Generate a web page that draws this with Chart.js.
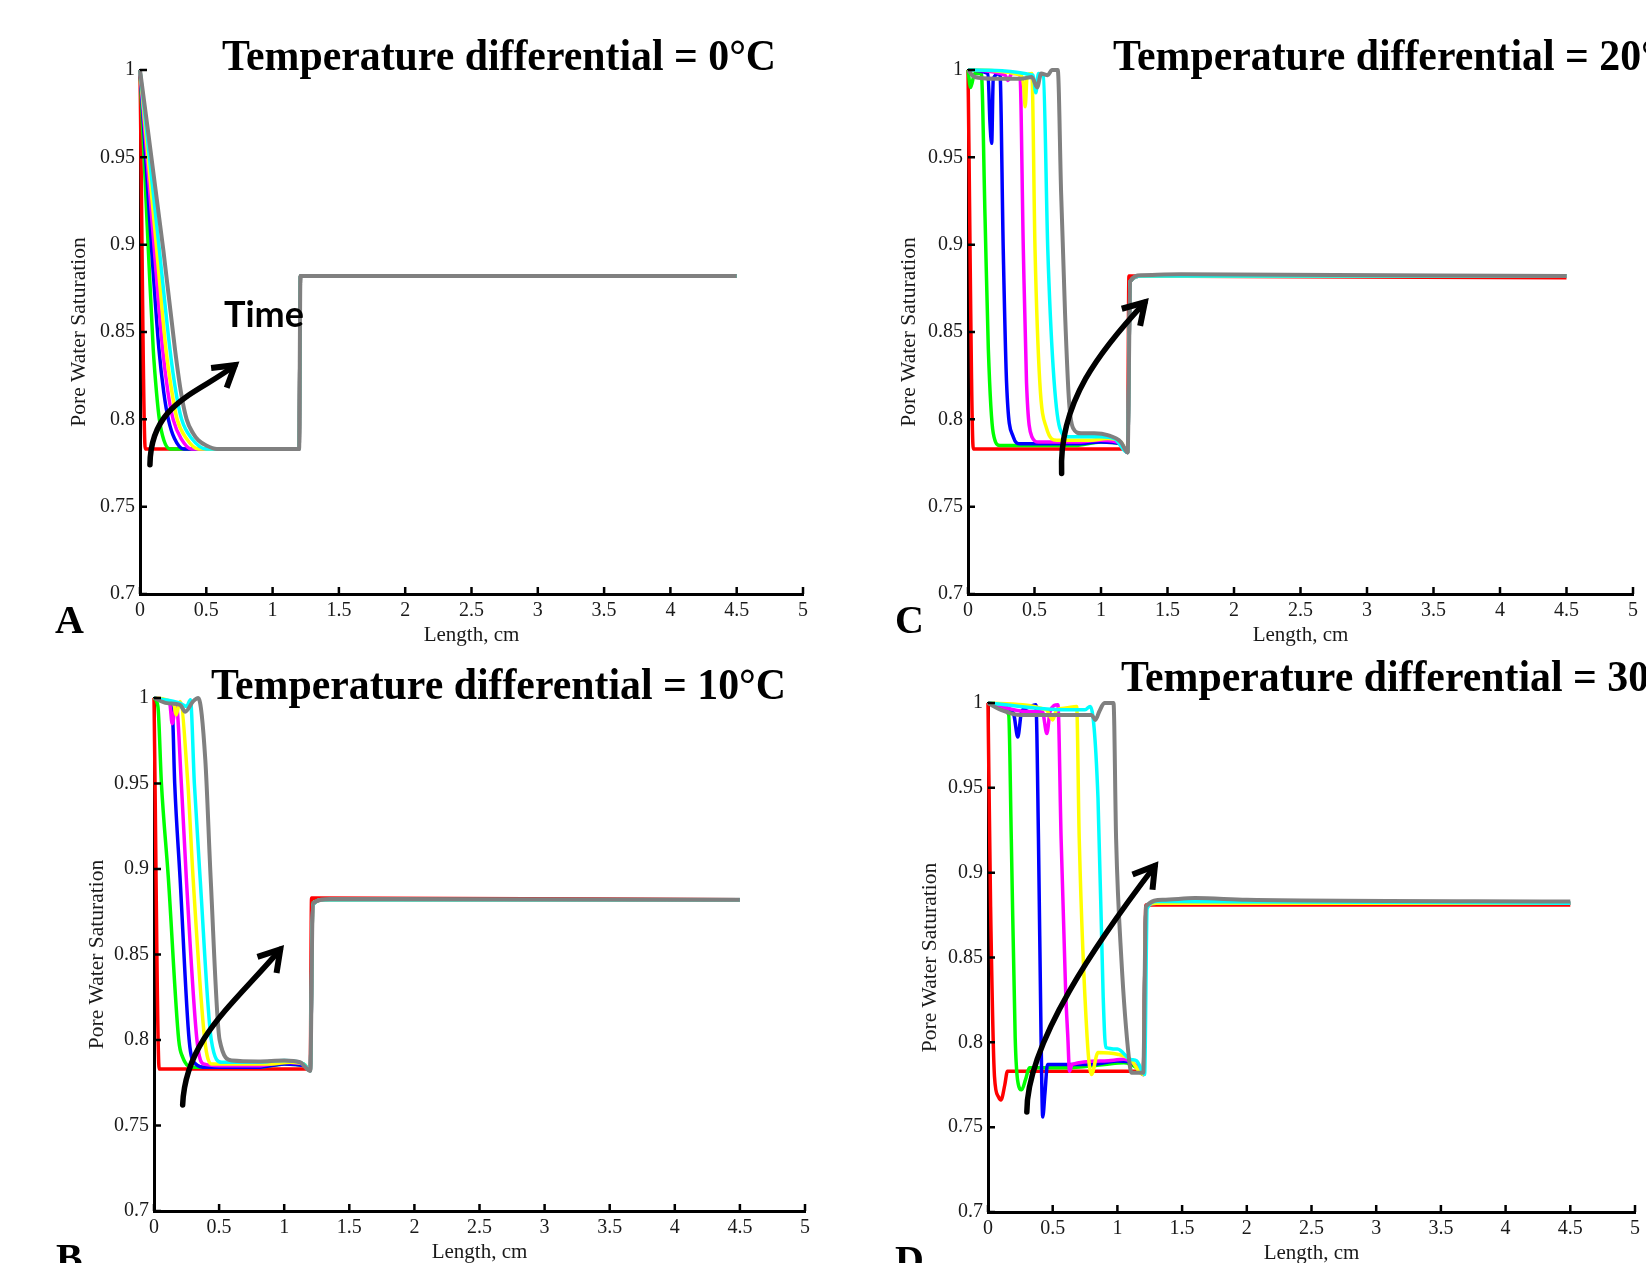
<!DOCTYPE html>
<html>
<head>
<meta charset="utf-8">
<script src="https://cdn.jsdelivr.net/npm/chart.js@4.4.0/dist/chart.umd.min.js"></script>
<style>
html, body { margin: 0; padding: 0; background: #fff; }
#page { position: relative; width: 1646px; height: 1263px; overflow: hidden; background: #fff; }
canvas { position: absolute; }
.title { position: absolute; font-family: 'Liberation Serif', 'Times New Roman', serif; font-weight: bold; font-size: 44px; line-height: 44px; white-space: nowrap; transform: scaleX(0.95); transform-origin: 0 0; color: #000; }
.letter { position: absolute; font-family: 'Liberation Serif', 'Times New Roman', serif; font-weight: bold; font-size: 40px; line-height: 40px; color: #000; }
.time { position: absolute; font-family: Lato, sans-serif; font-weight: bold; font-size: 36px; line-height: 43px; color: #000; }
</style>
</head>
<body>
<div id="page">
  <canvas id="chartA"></canvas>
  <canvas id="chartC"></canvas>
  <canvas id="chartB"></canvas>
  <canvas id="chartD"></canvas>
  <div class="title" style="left:222px; top:34px;">Temperature differential = 0°C</div>
  <div class="title" style="left:1113px; top:34px;">Temperature differential = 20°C</div>
  <div class="title" style="left:211px; top:663px;">Temperature differential = 10°C</div>
  <div class="title" style="left:1121px; top:655px;">Temperature differential = 30°C</div>
  <div class="letter" style="left:55px; top:600px;">A</div>
  <div class="letter" style="left:895px; top:600px;">C</div>
  <div class="letter" style="left:56px; top:1238px;">B</div>
  <div class="letter" style="left:895px; top:1240px;">D</div>
  <div class="time" style="left:224px; top:292px;">Time</div>
</div>
<script>
// axis ticks
var xTicks = [0, 0.5, 1, 1.5, 2, 2.5, 3, 3.5, 4, 4.5, 5];
var yTicks = [0.7, 0.75, 0.8, 0.85, 0.9, 0.95, 1];

var seriesNames = ['red', 'green', 'blue', 'magenta', 'yellow', 'cyan', 'gray'];
var seriesColors = ['#ff0000', '#00ff00', '#0000ff', '#ff00ff', '#ffff00', '#00ffff', '#808080'];

// 0 C  -- [length cm, saturation]
var A_red = [[0, 1], [0.04, 0.783], [1.2, 0.783], [1.21, 0.882], [4.5, 0.882]];
var A_green = [[0, 1], [0.063, 0.897], [0.1, 0.84], [0.125, 0.815], [0.146, 0.8], [0.18, 0.788], [0.226, 0.783], [1.2, 0.783], [1.21, 0.882], [4.5, 0.882]];
var A_blue = [[0, 1], [0.088, 0.897], [0.143, 0.84], [0.18, 0.815], [0.214, 0.8], [0.26, 0.789], [0.33, 0.783], [1.2, 0.783], [1.21, 0.882], [4.5, 0.882]];
var A_magenta = [[0, 1], [0.108, 0.897], [0.171, 0.84], [0.21, 0.816], [0.25, 0.8], [0.31, 0.789], [0.39, 0.783], [1.2, 0.783], [1.21, 0.882], [4.5, 0.882]];
var A_yellow = [[0, 1], [0.126, 0.897], [0.196, 0.84], [0.24, 0.816], [0.28, 0.8], [0.35, 0.789], [0.44, 0.783], [1.2, 0.783], [1.21, 0.882], [4.5, 0.882]];
var A_cyan = [[0, 1], [0.146, 0.897], [0.226, 0.84], [0.27, 0.816], [0.314, 0.8], [0.39, 0.789], [0.5, 0.783], [1.2, 0.783], [1.21, 0.882], [4.5, 0.882]];
var A_gray = [[0, 1], [0.176, 0.897], [0.264, 0.84], [0.31, 0.815], [0.352, 0.8], [0.4, 0.792], [0.44, 0.788], [0.5, 0.785], [0.58, 0.783], [1.2, 0.783], [1.21, 0.882], [4.5, 0.882]];

// 10 C
var B_red = [[0, 1], [0.04, 0.783], [1.2, 0.783], [1.21, 0.883], [4.5, 0.882]];
var B_green = [[0, 1], [0.03, 0.995], [0.057, 0.95], [0.11, 0.895], [0.19, 0.8], [0.22, 0.79], [0.3, 0.784], [0.8, 0.784], [1.0, 0.786], [1.15, 0.785], [1.2, 0.782], [1.22, 0.88], [1.3, 0.882], [4.5, 0.882]];
var B_blue = [[0, 1], [0.1, 0.998], [0.14, 0.993], [0.159, 0.95], [0.2, 0.895], [0.27, 0.8], [0.32, 0.786], [0.4, 0.784], [0.8, 0.784], [1.0, 0.786], [1.15, 0.785], [1.2, 0.782], [1.22, 0.879], [1.3, 0.882], [4.5, 0.882]];
var B_magenta = [[0, 1], [0.12, 0.997], [0.14, 0.985], [0.17, 0.997], [0.21, 0.95], [0.248, 0.895], [0.33, 0.8], [0.38, 0.786], [0.5, 0.785], [0.8, 0.785], [1.0, 0.787], [1.15, 0.786], [1.2, 0.782], [1.22, 0.879], [1.3, 0.882], [4.5, 0.882]];
var B_yellow = [[0, 1], [0.15, 0.997], [0.17, 0.99], [0.2, 0.998], [0.26, 0.95], [0.3, 0.895], [0.39, 0.8], [0.44, 0.786], [0.6, 0.786], [0.9, 0.786], [1.05, 0.787], [1.15, 0.786], [1.2, 0.782], [1.22, 0.879], [1.3, 0.882], [4.5, 0.882]];
var B_cyan = [[0, 1], [0.2, 0.997], [0.25, 0.995], [0.28, 0.999], [0.31, 0.95], [0.354, 0.895], [0.44, 0.8], [0.52, 0.787], [0.8, 0.787], [1.0, 0.788], [1.15, 0.786], [1.2, 0.782], [1.22, 0.879], [1.3, 0.882], [4.5, 0.882]];
var B_gray = [[0, 1], [0.1, 0.997], [0.2, 0.996], [0.24, 0.992], [0.3, 0.998], [0.34, 1], [0.394, 0.964], [0.435, 0.895], [0.504, 0.8], [0.6, 0.788], [0.8, 0.7875], [1.0, 0.788], [1.12, 0.787], [1.2, 0.782], [1.22, 0.88], [1.35, 0.8825], [1.8, 0.8825], [4.5, 0.882]];

// 20 C
var C_red = [[0, 1], [0.04, 0.783], [1.2, 0.783], [1.21, 0.882], [4.5, 0.881]];
var C_green = [[0, 1], [0.02, 0.99], [0.05, 0.998], [0.1, 0.998], [0.128, 0.916], [0.153, 0.84], [0.19, 0.792], [0.24, 0.785], [0.8, 0.785], [1.0, 0.787], [1.15, 0.786], [1.2, 0.781], [1.22, 0.879], [1.3, 0.882], [4.5, 0.882]];
var C_blue = [[0, 1], [0.15, 0.998], [0.165, 0.97], [0.178, 0.958], [0.19, 0.995], [0.24, 0.998], [0.265, 0.897], [0.29, 0.821], [0.34, 0.79], [0.39, 0.786], [0.8, 0.786], [1.0, 0.787], [1.15, 0.786], [1.2, 0.781], [1.22, 0.879], [1.3, 0.882], [4.5, 0.882]];
var C_magenta = [[0, 1], [0.28, 0.997], [0.3, 0.994], [0.33, 0.998], [0.39, 0.998], [0.416, 0.897], [0.44, 0.821], [0.48, 0.79], [0.53, 0.787], [0.8, 0.787], [1.0, 0.788], [1.15, 0.786], [1.2, 0.781], [1.22, 0.879], [1.3, 0.882], [4.5, 0.882]];
var C_yellow = [[0, 1], [0.4, 0.997], [0.42, 0.99], [0.43, 0.979], [0.445, 0.997], [0.48, 0.998], [0.504, 0.897], [0.54, 0.821], [0.59, 0.795], [0.667, 0.788], [0.9, 0.788], [1.05, 0.789], [1.15, 0.787], [1.2, 0.781], [1.22, 0.879], [1.3, 0.882], [4.5, 0.882]];
var C_cyan = [[0, 1], [0.49, 0.997], [0.51, 0.987], [0.53, 0.998], [0.566, 0.997], [0.6, 0.897], [0.64, 0.83], [0.69, 0.795], [0.75, 0.79], [1.0, 0.79], [1.1, 0.789], [1.2, 0.781], [1.22, 0.879], [1.3, 0.882], [4.5, 0.882]];
var C_gray = [[0, 1], [0.05, 0.996], [0.2, 0.995], [0.4, 0.995], [0.48, 0.996], [0.52, 0.99], [0.55, 0.998], [0.6, 0.997], [0.63, 1], [0.675, 1], [0.7, 0.93], [0.73, 0.86], [0.76, 0.81], [0.79, 0.795], [0.85, 0.792], [0.95, 0.792], [1.05, 0.791], [1.15, 0.787], [1.2, 0.781], [1.22, 0.879], [1.3, 0.8825], [1.6, 0.883], [4.5, 0.882]];

// 30 C
var D_red = [[0, 1], [0.02, 0.88], [0.05, 0.78], [0.08, 0.768], [0.1, 0.766], [0.13, 0.775], [0.15, 0.783], [1.2, 0.783], [1.22, 0.881], [4.5, 0.881]];
var D_green = [[0, 1], [0.1, 0.997], [0.16, 0.993], [0.18, 0.92], [0.21, 0.803], [0.23, 0.777], [0.26, 0.772], [0.29, 0.778], [0.32, 0.785], [0.6, 0.785], [0.9, 0.787], [1.05, 0.788], [1.15, 0.785], [1.2, 0.781], [1.22, 0.879], [1.3, 0.882], [4.5, 0.882]];
var D_blue = [[0, 1], [0.15, 0.997], [0.2, 0.993], [0.23, 0.98], [0.26, 0.995], [0.3, 0.997], [0.37, 0.999], [0.39, 0.92], [0.41, 0.803], [0.423, 0.756], [0.44, 0.77], [0.46, 0.787], [0.8, 0.787], [1.0, 0.789], [1.15, 0.786], [1.2, 0.781], [1.22, 0.879], [1.3, 0.882], [4.5, 0.882]];
var D_magenta = [[0, 1], [0.3, 0.995], [0.42, 0.995], [0.455, 0.982], [0.48, 0.995], [0.54, 0.999], [0.565, 0.92], [0.6, 0.83], [0.617, 0.803], [0.63, 0.783], [0.65, 0.787], [0.9, 0.789], [1.05, 0.79], [1.15, 0.786], [1.2, 0.781], [1.22, 0.879], [1.3, 0.882], [4.5, 0.882]];
var D_yellow = [[0, 1], [0.45, 0.996], [0.5, 0.99], [0.53, 0.996], [0.6, 0.997], [0.685, 0.998], [0.705, 0.92], [0.766, 0.803], [0.8, 0.781], [0.85, 0.794], [1.0, 0.793], [1.1, 0.79], [1.2, 0.781], [1.22, 0.879], [1.3, 0.882], [4.5, 0.882]];
var D_cyan = [[0, 1], [0.6, 0.996], [0.75, 0.996], [0.79, 0.998], [0.85, 0.944], [0.89, 0.827], [0.91, 0.797], [1.0, 0.796], [1.1, 0.79], [1.15, 0.789], [1.21, 0.781], [1.23, 0.879], [1.3, 0.883], [4.5, 0.882]];
var D_gray = [[0, 1], [0.1, 0.996], [0.25, 0.993], [0.5, 0.993], [0.8, 0.993], [0.83, 0.99], [0.86, 0.995], [0.9, 1], [0.97, 1], [0.99, 0.92], [1.03, 0.85], [1.09, 0.79], [1.11, 0.782], [1.2, 0.782], [1.22, 0.88], [1.35, 0.884], [1.6, 0.885], [2.0, 0.884], [4.5, 0.883]];

// "time" arrows: tail, two control points, head (data units)
var A_arrow = [[0.075, 0.774], [0.08, 0.81], [0.45, 0.815], [0.716, 0.831]];
var B_arrow = [[0.22, 0.762], [0.24, 0.8], [0.6, 0.82], [0.97, 0.853]];
var C_arrow = [[0.704, 0.769], [0.68, 0.81], [1.0, 0.84], [1.33, 0.867]];
var D_arrow = [[0.3, 0.759], [0.3, 0.8], [0.85, 0.86], [1.29, 0.904]];

var inwardTicks = {
    id: 'inwardTicks',
    afterDraw: function(chart) {
        var ctx = chart.ctx, area = chart.chartArea;
        var xs = chart.scales.x, ys = chart.scales.y;
        ctx.save();
        ctx.strokeStyle = '#000';
        ctx.lineWidth = 2.5;
        ctx.beginPath();
        xTicks.forEach(function(v) {
            var px = xs.getPixelForValue(v);
            ctx.moveTo(px, area.bottom);
            ctx.lineTo(px, area.bottom - 7);
        });
        yTicks.forEach(function(v) {
            var py = ys.getPixelForValue(v);
            ctx.moveTo(area.left, py);
            ctx.lineTo(area.left + 7, py);
        });
        ctx.stroke();
        ctx.restore();
    }
};

var timeArrow = {
    id: 'timeArrow',
    afterDatasetsDraw: function(chart, args, opts) {
        var pts = opts.points;
        if (!pts) return;
        var xs = chart.scales.x, ys = chart.scales.y, ctx = chart.ctx;
        var p = pts.map(function(q) { return [xs.getPixelForValue(q[0]), ys.getPixelForValue(q[1])]; });
        ctx.save();
        ctx.strokeStyle = '#000';
        ctx.lineWidth = 5.5;
        ctx.lineCap = 'round';
        ctx.lineJoin = 'miter';
        ctx.beginPath();
        ctx.moveTo(p[0][0], p[0][1]);
        ctx.bezierCurveTo(p[1][0], p[1][1], p[2][0], p[2][1], p[3][0], p[3][1]);
        ctx.stroke();
        // head
        var ang = Math.atan2(p[3][1] - p[2][1], p[3][0] - p[2][0]);
        var len = 24, spread = 0.55;
        ctx.beginPath();
        ctx.moveTo(p[3][0] - len * Math.cos(ang - spread), p[3][1] - len * Math.sin(ang - spread));
        ctx.lineTo(p[3][0], p[3][1]);
        ctx.lineTo(p[3][0] - len * Math.cos(ang + spread), p[3][1] - len * Math.sin(ang + spread));
        ctx.lineWidth = 6;
        ctx.lineCap = 'butt';
        ctx.stroke();
        ctx.restore();
    }
};

function makePanel(id, box, series, arrow, titleGap) {
    var cv = document.getElementById(id);
    var w = box[2] - box[0] + 160, h = box[3] - box[1] + 110;
    cv.width = w;
    cv.height = h;
    cv.style.left = (box[0] - 140) + 'px';
    cv.style.top = (box[1] - 40) + 'px';

    var datasets = series.map(function(s, i) {
        return {
            label: seriesNames[i],
            data: s.map(function(q) { return { x: q[0], y: q[1] }; }),
            borderColor: seriesColors[i],
            borderWidth: i == 6 ? 4 : 3.5,
            pointRadius: 0,
            cubicInterpolationMode: 'monotone',
            fill: false,
            clip: false,
            order: 6 - i
        };
    });

    var serif = "'Liberation Serif', 'Times New Roman', serif";
    return new Chart(cv.getContext('2d'), {
        type: 'line',
        data: { datasets: datasets },
        options: {
            responsive: false,
            animation: false,
            layout: { padding: { left: 0, top: 40, right: 20, bottom: 0 } },
            scales: {
                x: {
                    type: 'linear',
                    min: 0,
                    max: 5,
                    afterBuildTicks: function(scale) { scale.ticks = xTicks.map(function(v) { return { value: v }; }); },
                    afterFit: function(scale) { scale.height = 70; },
                    grid: { display: false, drawTicks: false },
                    border: { display: true, color: '#000', width: 3 },
                    ticks: {
                        color: '#1a1a1a',
                        padding: 5,
                        maxRotation: 0,
                        font: { family: serif, size: 20 },
                        callback: function(v) { return String(v); }
                    },
                    title: {
                        display: true,
                        text: 'Length, cm',
                        color: '#1a1a1a',
                        font: { family: serif, size: 21 },
                        padding: { top: 0, bottom: 16 }
                    }
                },
                y: {
                    type: 'linear',
                    min: 0.7,
                    max: 1,
                    afterBuildTicks: function(scale) { scale.ticks = yTicks.map(function(v) { return { value: v }; }); },
                    afterFit: function(scale) { scale.width = 140; },
                    grid: { display: false, drawTicks: false },
                    border: { display: true, color: '#000', width: 3 },
                    ticks: {
                        color: '#1a1a1a',
                        padding: 5,
                        font: { family: serif, size: 20 },
                        callback: function(v) { return String(v); }
                    },
                    title: {
                        display: true,
                        text: 'Pore Water Saturation',
                        color: '#1a1a1a',
                        font: { family: serif, size: 21.5 },
                        padding: { top: 140 - titleGap - 13, bottom: 0 }
                    }
                }
            },
            plugins: {
                legend: { display: false },
                tooltip: { enabled: false },
                timeArrow: { points: arrow }
            }
        },
        plugins: [inwardTicks, timeArrow]
    });
}

var chartA = makePanel('chartA', [140, 70, 803, 594], [A_red, A_green, A_blue, A_magenta, A_yellow, A_cyan, A_gray], A_arrow, 61);
var chartC = makePanel('chartC', [968, 70, 1633, 594], [C_red, C_green, C_blue, C_magenta, C_yellow, C_cyan, C_gray], C_arrow, 59);
var chartB = makePanel('chartB', [154, 698, 805, 1211], [B_red, B_green, B_blue, B_magenta, B_yellow, B_cyan, B_gray], B_arrow, 57);
var chartD = makePanel('chartD', [988, 703, 1635, 1212], [D_red, D_green, D_blue, D_magenta, D_yellow, D_cyan, D_gray], D_arrow, 58);
</script>
</body>
</html>
